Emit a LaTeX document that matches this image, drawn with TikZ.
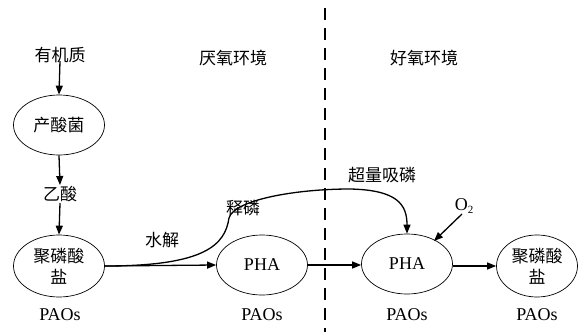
\documentclass[tikz,border=0pt]{standalone}
\usepackage{fontspec}
\setmainfont{Liberation Serif}
\newfontfamily\cjk{Noto Sans CJK SC}
\usetikzlibrary{arrows.meta,shapes.geometric}
\tikzset{
  ell/.style={draw,line width=0.7pt,ellipse,inner sep=0pt,minimum width=91pt,minimum height=60pt,align=center,font=\fontsize{18}{21}\selectfont},
  lbl/.style={inner sep=1pt,font=\fontsize{18}{20}\selectfont},
  arr/.style={line width=1.3pt,-{Triangle[length=9pt,width=7pt]}},
  sep/.style={line width=1.6pt,dash pattern=on 12pt off 8pt}
}
\begin{document}
\begin{tikzpicture}[x=1pt,y=-1pt]
\useasboundingbox (0,0) rectangle (582,332);
% separator
\coordinate (st) at (325,8);
\coordinate (sb) at (325,332);
\draw[sep] (st) -- (sb);
% headings
\node[lbl] (h1) at (233,58) {\cjk\fontsize{17}{20}\selectfont 厌氧环境};
\node[lbl] (h2) at (424,58) {\cjk\fontsize{17}{20}\selectfont 好氧环境};
% left column
\node[lbl] (om) at (60,55) {\cjk\fontsize{17}{20}\selectfont 有机质};
\node[ell] (acid) at (59,125) {\cjk\fontsize{17}{20}\selectfont 产酸菌};
\node[lbl] (ac) at (60,194) {\cjk\fontsize{17}{20}\selectfont 乙酸};
\node[ell,minimum height=62pt] (e1) at (59,266) {\cjk\fontsize{17}{21}\selectfont 聚磷酸\\\cjk\fontsize{17}{21}\selectfont 盐};
\node[lbl] (p1) at (60,315) {PAOs};
% anaerobic PHA
\node[ell] (pha1) at (262,265) {PHA};
\node[lbl] (p2) at (262,315) {PAOs};
% aerobic PHA
\node[ell] (pha2) at (407,264) {PHA};
\node[lbl] (p3) at (407,315) {PAOs};
% final
\node[ell,minimum width=81pt,minimum height=62pt] (e4) at (537,266) {\cjk\fontsize{17}{21}\selectfont 聚磷酸\\\cjk\fontsize{17}{21}\selectfont 盐};
\node[lbl] (p4) at (537,315) {PAOs};
% labels
\node[lbl] (sj) at (162,240) {\cjk\fontsize{17}{20}\selectfont 水解};
\node[lbl] (sl) at (243,208) {\cjk\fontsize{17}{20}\selectfont 释磷};
\node[lbl] (cl) at (382,175) {\cjk\fontsize{17}{20}\selectfont 超量吸磷};
\node[lbl] (o2) at (464,206) {O\raisebox{-0.4ex}{\fontsize{11}{11}\selectfont 2}};
\coordinate (o2s) at (462,214);
\coordinate (o2e) at (434,241);
% connectors
\draw[arr] (om.south) ++(0,-3) -- (acid.north);
\draw[arr] (acid.south) -- (ac.north);
\draw[arr] (ac.south) -- (e1.north);
\draw[arr] (e1.east) -- (pha1.west);
\draw[arr] (pha1.east) -- (pha2.west |- pha1.east);
\draw[arr] (pha2.east |- e4.west) -- (e4.west);
\draw[arr] (o2s) -- (o2e);
\draw[arr] (e1.east) .. controls (205,266) and (225,245) .. (229,218)
  .. controls (234,200) and (295,189) .. (350,189)
  .. controls (398,190) and (407,205) .. (pha2.north);
\end{tikzpicture}
\end{document}
